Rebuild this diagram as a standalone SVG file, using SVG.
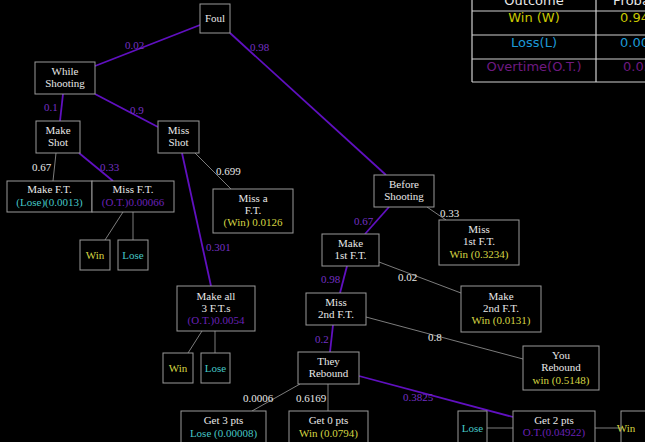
<svg xmlns="http://www.w3.org/2000/svg" width="645" height="442" viewBox="0 0 645 442">
<style>
.bg{fill:#000}
.box{fill:#000;stroke:#9a9a9a;stroke-width:1}
.t{font-family:"Liberation Serif","DejaVu Serif",serif;font-size:11px;fill:#e8e8e8;text-anchor:middle}
.y{fill:#d6d643}
.c{fill:#45c6c6}
.p{fill:#6a22b8}
.lbl{font-family:"Liberation Serif","DejaVu Serif",serif;font-size:11px}
.lw{fill:#e8e8e8}
.lp{fill:#7430c4}
.ep{stroke:#6010c0;stroke-width:1.8;fill:none}
.eg{stroke:#8a8a8a;stroke-width:0.9;fill:none}
.tb{font-family:"DejaVu Sans","Liberation Sans",sans-serif;font-size:13px}
.tl{stroke:#d0d0d0;stroke-width:1.2}
</style>
<rect class="bg" x="0" y="0" width="645" height="442"/>

<g id="table">
<line class="tl" x1="472" y1="0" x2="472" y2="82"/>
<line class="tl" x1="596" y1="0" x2="596" y2="82"/>
<line class="tl" x1="472" y1="11" x2="645" y2="11"/>
<line class="tl" x1="472" y1="35" x2="645" y2="35"/>
<line class="tl" x1="472" y1="59" x2="645" y2="59"/>
<line class="tl" x1="472" y1="82" x2="645" y2="82"/>
<text class="tb" x="534" y="5" text-anchor="middle" fill="#e8e8e8">Outcome</text>
<text class="tb" x="613" y="5" fill="#e8e8e8">Proba</text>
<text class="tb" x="534" y="22" text-anchor="middle" fill="#c9c700">Win (W)</text>
<text class="tb" x="620" y="22" fill="#c9c700">0.94</text>
<text class="tb" x="534" y="47" text-anchor="middle" fill="#1c98d6">Loss(L)</text>
<text class="tb" x="620" y="47" fill="#1c98d6">0.00</text>
<text class="tb" x="534" y="71" text-anchor="middle" fill="#6e1a80">Overtime(O.T.)</text>
<text class="tb" x="623" y="71" fill="#6e1a80">0.05</text>
</g>

<g id="connectors">
<line class="ep" x1="200" y1="25" x2="95" y2="66"/>
<line class="ep" x1="230" y1="33" x2="386" y2="175"/>
<line class="ep" x1="63" y1="94" x2="60" y2="121"/>
<line class="ep" x1="95" y1="94" x2="158" y2="127"/>
<line class="eg" x1="56" y1="153" x2="53" y2="181"/>
<line class="ep" x1="79" y1="153" x2="113" y2="181"/>
<line class="ep" x1="182" y1="153" x2="211" y2="286"/>
<line class="eg" x1="195" y1="153" x2="231" y2="189"/>
<line class="eg" x1="123" y1="212" x2="105" y2="240"/>
<line class="eg" x1="133" y1="212" x2="133" y2="240"/>
<line class="eg" x1="202" y1="331" x2="188" y2="353"/>
<line class="eg" x1="215" y1="331" x2="215" y2="353"/>
<line class="ep" x1="389" y1="207" x2="365" y2="234"/>
<line class="eg" x1="427" y1="207" x2="446" y2="220"/>
<line class="ep" x1="347" y1="266" x2="340" y2="293"/>
<line class="eg" x1="379" y1="262" x2="461" y2="293"/>
<line class="ep" x1="333" y1="325" x2="330" y2="352"/>
<line class="eg" x1="366" y1="317" x2="523" y2="359"/>
<line class="ep" x1="359" y1="376" x2="513" y2="417"/>
<line class="eg" x1="300" y1="384" x2="252" y2="411"/>
<line class="eg" x1="328" y1="384" x2="328" y2="411"/>
<line class="eg" x1="487" y1="428" x2="513" y2="428"/>
<line class="eg" x1="595" y1="428" x2="621" y2="428"/>
<g class="lbl">
<text class="lp" x="125" y="49">0.02</text>
<text class="lp" x="250" y="51">0.98</text>
<text class="lp" x="44" y="111">0.1</text>
<text class="lp" x="130" y="114">0.9</text>
<text class="lw" x="32" y="171">0.67</text>
<text class="lp" x="100" y="171">0.33</text>
<text class="lp" x="206" y="251">0.301</text>
<text class="lw" x="216" y="175">0.699</text>
<text class="lp" x="354" y="225">0.67</text>
<text class="lw" x="440" y="217">0.33</text>
<text class="lp" x="321" y="283">0.98</text>
<text class="lw" x="398" y="281">0.02</text>
<text class="lp" x="315" y="343">0.2</text>
<text class="lw" x="428" y="341">0.8</text>
<text class="lp" x="403" y="401">0.3825</text>
<text class="lw" x="243" y="402">0.0006</text>
<text class="lw" x="296" y="402">0.6169</text>
</g>
</g>

<g id="foul"><rect class="box" x="200" y="4" width="30" height="29"/><text class="t" x="215" y="22">Foul</text></g>
<g id="while"><rect class="box" x="35" y="62" width="60" height="32"/><text class="t" x="65" y="75">While</text><text class="t" x="65" y="87">Shooting</text></g>
<g id="makeshot"><rect class="box" x="36" y="121" width="44" height="32"/><text class="t" x="58" y="134">Make</text><text class="t" x="58" y="146">Shot</text></g>
<g id="missshot"><rect class="box" x="158" y="121" width="41" height="32"/><text class="t" x="178.5" y="134">Miss</text><text class="t" x="178.5" y="146">Shot</text></g>
<g id="makeft"><rect class="box" x="7" y="181" width="85" height="31"/><text class="t" x="49.5" y="193">Make F.T.</text><text class="t c" x="49.5" y="206">(Lose)(0.0013)</text></g>
<g id="missft"><rect class="box" x="92" y="181" width="82" height="31"/><text class="t" x="133" y="193">Miss F.T.</text><text class="t p" x="133" y="206">(O.T.)0.00066</text></g>
<g id="missaft"><rect class="box" x="213" y="189" width="80" height="44"/><text class="t" x="253" y="202">Miss a</text><text class="t" x="253" y="214">F.T.</text><text class="t y" x="253" y="226">(Win) 0.0126</text></g>
<g id="win1"><rect class="box" x="80" y="240" width="30" height="30"/><text class="t y" x="95" y="259">Win</text></g>
<g id="lose1"><rect class="box" x="118" y="240" width="30" height="30"/><text class="t c" x="133" y="259">Lose</text></g>
<g id="makeall"><rect class="box" x="177" y="286" width="78" height="45"/><text class="t" x="216" y="300">Make all</text><text class="t" x="216" y="312">3 F.T.s</text><text class="t p" x="216" y="324">(O.T.)0.0054</text></g>
<g id="win2"><rect class="box" x="163" y="353" width="30" height="30"/><text class="t y" x="178" y="372">Win</text></g>
<g id="lose2"><rect class="box" x="201" y="353" width="29" height="30"/><text class="t c" x="215.5" y="372">Lose</text></g>
<g id="before"><rect class="box" x="374" y="175" width="60" height="32"/><text class="t" x="404" y="188">Before</text><text class="t" x="404" y="200">Shooting</text></g>
<g id="make1"><rect class="box" x="322" y="234" width="57" height="32"/><text class="t" x="350.5" y="247">Make</text><text class="t" x="350.5" y="259">1st F.T.</text></g>
<g id="miss1"><rect class="box" x="439" y="220" width="80" height="45"/><text class="t" x="479" y="233">Miss</text><text class="t" x="479" y="245">1st F.T.</text><text class="t y" x="479" y="258">Win (0.3234)</text></g>
<g id="make2"><rect class="box" x="461" y="286" width="80" height="46"/><text class="t" x="501" y="300">Make</text><text class="t" x="501" y="312">2nd F.T.</text><text class="t y" x="501" y="324">Win (0.0131)</text></g>
<g id="miss2"><rect class="box" x="306" y="293" width="60" height="32"/><text class="t" x="336" y="306">Miss</text><text class="t" x="336" y="318">2nd F.T.</text></g>
<g id="theyreb"><rect class="box" x="298" y="352" width="61" height="32"/><text class="t" x="328.5" y="365">They</text><text class="t" x="328.5" y="377">Rebound</text></g>
<g id="youreb"><rect class="box" x="523" y="346" width="76" height="44"/><text class="t" x="561" y="359">You</text><text class="t" x="561" y="371">Rebound</text><text class="t y" x="561" y="384">win (0.5148)</text></g>
<g id="get3"><rect class="box" x="181" y="411" width="85" height="40"/><text class="t" x="223.5" y="424">Get 3 pts</text><text class="t c" x="223.5" y="437">Lose (0.00008)</text></g>
<g id="get0"><rect class="box" x="289" y="411" width="79" height="40"/><text class="t" x="328.5" y="424">Get 0 pts</text><text class="t y" x="328.5" y="437">Win (0.0794)</text></g>
<g id="lose3"><rect class="box" x="458" y="411" width="29" height="40"/><text class="t c" x="472.5" y="432">Lose</text></g>
<g id="get2"><rect class="box" x="513" y="411" width="82" height="40"/><text class="t" x="554" y="424">Get 2 pts</text><text class="t p" x="554" y="436">O.T.(0.04922)</text></g>
<g id="win3"><rect class="box" x="621" y="411" width="40" height="40"/><text class="t y" x="626" y="432" text-anchor="start">Win</text></g>
</svg>
